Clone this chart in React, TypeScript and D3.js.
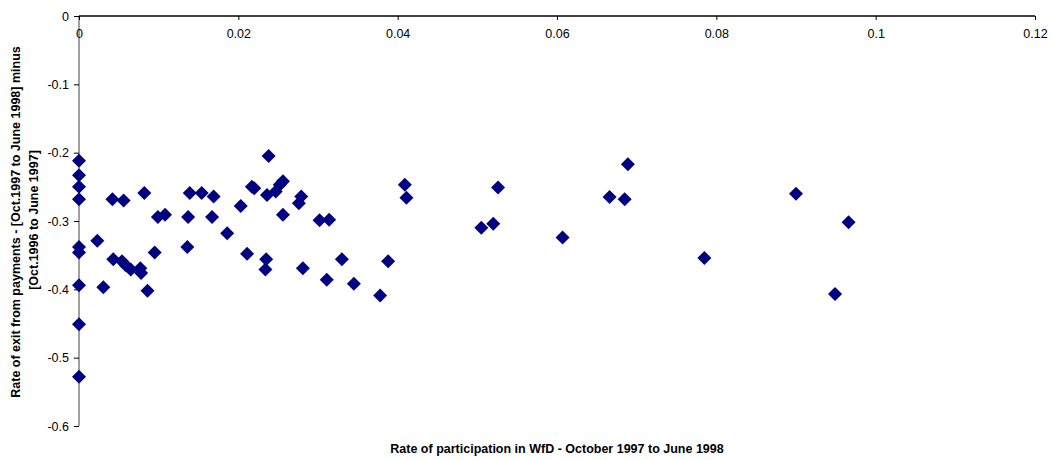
import React, { useRef, useEffect } from 'react';
import * as d3 from 'd3';

// participation rate (x) and change in exit rate (y)
const participation = [
  0, 0, 0, 0, 0, 0, 0, 0, 0,
  0.0023, 0.00305, 0.0042, 0.0043, 0.0056, 0.0054, 0.0059, 0.0065, 0.0077, 0.0078,
  0.0082, 0.0086, 0.0095, 0.0099, 0.0108, 0.0136, 0.0137, 0.0139, 0.0154, 0.0169,
  0.0167, 0.0186, 0.0203, 0.0211, 0.0217, 0.022, 0.0238, 0.0235, 0.0234, 0.0236,
  0.0247, 0.0252, 0.0256, 0.0256, 0.0276, 0.0279, 0.0281, 0.0302, 0.0314, 0.0311,
  0.033, 0.0345, 0.0378, 0.0388, 0.0409, 0.0411, 0.0505, 0.052, 0.0526, 0.0607,
  0.0666, 0.0685, 0.0689, 0.0785, 0.09, 0.0966, 0.0949,
];
const exitChange = [
  -0.212, -0.233, -0.25, -0.268, -0.338, -0.346, -0.394, -0.451, -0.528,
  -0.329, -0.397, -0.268, -0.356, -0.27, -0.359, -0.365, -0.371, -0.369, -0.376,
  -0.259, -0.402, -0.346, -0.294, -0.291, -0.338, -0.294, -0.259, -0.259, -0.264,
  -0.294, -0.318, -0.278, -0.348, -0.25, -0.252, -0.205, -0.356, -0.371, -0.262,
  -0.257, -0.247, -0.242, -0.291, -0.274, -0.264, -0.369, -0.299, -0.298, -0.386,
  -0.356, -0.392, -0.409, -0.359, -0.247, -0.266, -0.31, -0.304, -0.251, -0.324,
  -0.265, -0.268, -0.217, -0.354, -0.26, -0.302, -0.407,
];

const xTicks = [0, 0.02, 0.04, 0.06, 0.08, 0.1, 0.12];
const yTicks = [0, -0.1, -0.2, -0.3, -0.4, -0.5, -0.6];

const xTitle = 'Rate of participation in WfD - October 1997 to June 1998';
const yTitle1 = 'Rate of exit from payments - [Oct.1997 to June 1998] minus';
const yTitle2 = '[Oct.1996 to June 1997]';

export default function App() {
  const ref = useRef<SVGSVGElement>(null);
  const width = 1053;
  const height = 460;

  useEffect(() => {
    if (!ref.current) return;
    const svg = d3.select(ref.current);
    svg.selectAll('*').remove();

    const x = d3.scaleLinear().domain([0, 0.12]).range([79, 1035]);
    const y = d3.scaleLinear().domain([0, -0.6]).range([16, 426]);
    const font = 'Arial, "Liberation Sans", sans-serif';

    // y axis (grey line, ticks to the left)
    const yAxis = svg.append('g').attr('transform', `translate(${x(0)},0)`)
      .call(d3.axisLeft(y).tickValues(yTicks).tickSize(5).tickPadding(5).tickFormat((d) => String(+d)));
    yAxis.select('.domain').attr('stroke', '#808080').attr('stroke-width', 1.5).attr('d', `M0,${y(0)}V${y(-0.6)}`);
    yAxis.selectAll('.tick line').attr('stroke', '#000');
    yAxis.selectAll('.tick text').attr('font-family', font).attr('font-size', 12.5).attr('fill', '#000');

    // x axis at y = 0, ticks pointing down, labels below
    const xAxis = svg.append('g').attr('transform', `translate(0,${y(0)})`)
      .call(d3.axisBottom(x).tickValues(xTicks).tickSize(4).tickPadding(9).tickFormat((d) => String(+d)));
    xAxis.select('.domain').attr('stroke', '#000').attr('stroke-width', 1.5).attr('d', `M${x(0)},0H${x(0.12)}`);
    xAxis.selectAll('.tick line').attr('stroke', '#000');
    xAxis.selectAll('.tick text').attr('font-family', font).attr('font-size', 12.5).attr('fill', '#000');

    // points
    const diamond = d3.symbol().type(d3.symbolDiamond2).size(125);
    svg.append('g')
      .selectAll('path')
      .data(participation.map((p, i) => [p, exitChange[i]]))
      .join('path')
      .attr('transform', (d) => `translate(${x(d[0])},${y(d[1])})`)
      .attr('d', diamond)
      .attr('fill', '#000080');

    // titles
    svg.append('text')
      .attr('x', 557).attr('y', 453)
      .attr('text-anchor', 'middle')
      .attr('font-family', font).attr('font-size', 12.5).attr('font-weight', 'bold')
      .text(xTitle);

    // first line of the y title is cut off at the top, as in the original
    svg.append('clipPath').attr('id', 'ytclip')
      .append('rect').attr('x', 0).attr('y', 45).attr('width', 60).attr('height', 400);

    const yt = svg.append('g').attr('clip-path', 'url(#ytclip)');
    yt.append('text')
      .attr('transform', 'translate(20,222) rotate(-90)')
      .attr('text-anchor', 'middle')
      .attr('font-family', font).attr('font-size', 12.5).attr('font-weight', 'bold')
      .text(yTitle1);
    yt.append('text')
      .attr('transform', 'translate(38,220) rotate(-90)')
      .attr('text-anchor', 'middle')
      .attr('font-family', font).attr('font-size', 12.5).attr('font-weight', 'bold')
      .text(yTitle2);
  }, []);

  return (
    <svg
      ref={ref}
      width={width}
      height={height}
      style={{ position: 'absolute', left: 0, top: 0, background: '#fff' }}
    />
  );
}
